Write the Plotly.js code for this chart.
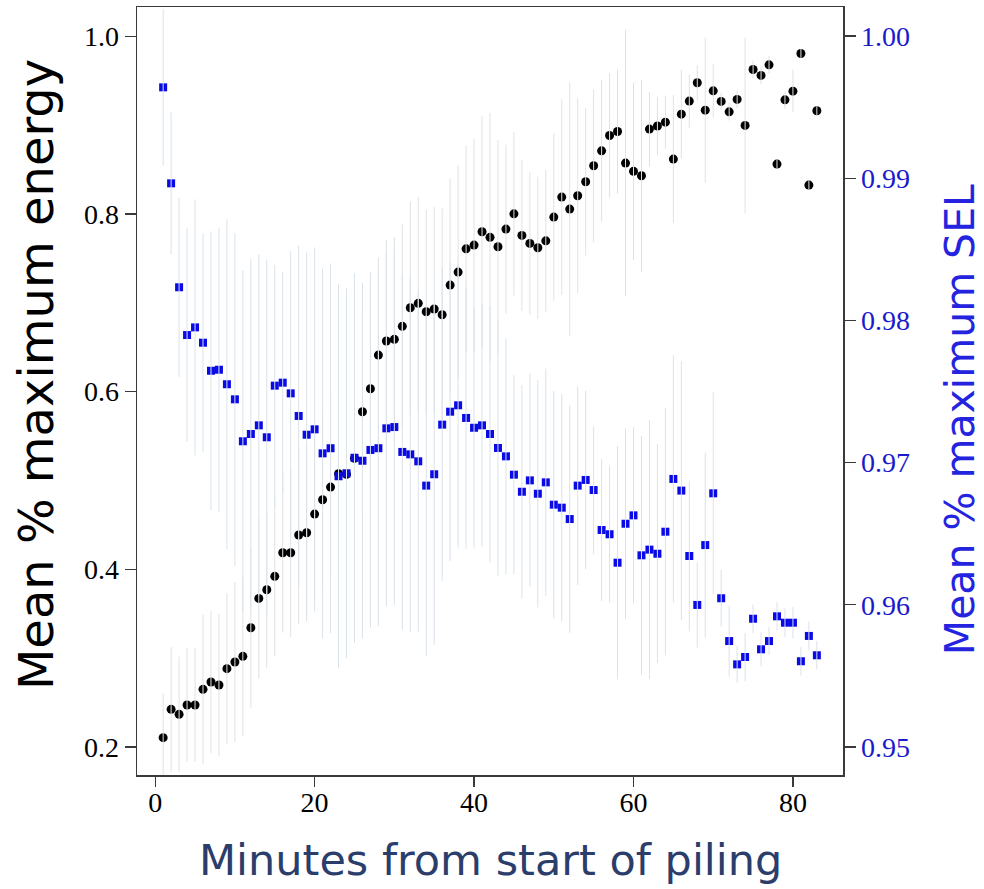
<!DOCTYPE html>
<html>
<head>
<meta charset="utf-8">
<script src="https://cdn.plot.ly/plotly-3.0.1.min.js"></script>
<style>html,body{margin:0;padding:0;background:#fff;}#chart{width:984px;height:889px;}</style>
</head>
<body>
<div id="chart"></div>
<script>
// Minutes from start of piling
const minutes = [];
for (let m = 1; m <= 83; m++) minutes.push(m);

// Mean % maximum energy (left axis)
const energy = [
  0.2105, 0.2424, 0.2368, 0.2473, 0.2473, 0.2649, 0.2732, 0.2698, 0.2882, 0.2957,
  0.3021, 0.3343, 0.3673, 0.3770, 0.3921, 0.4187, 0.4187, 0.4386, 0.4412, 0.4622,
  0.4783, 0.4926, 0.5076, 0.5069, 0.5250, 0.5774, 0.6033, 0.6412, 0.6570, 0.6589,
  0.6735, 0.6944, 0.6994, 0.6899, 0.6930, 0.6866, 0.7200, 0.7346, 0.7608, 0.7650,
  0.7800, 0.7737, 0.7631, 0.7830, 0.8002, 0.7759, 0.7669, 0.7620, 0.7698, 0.7965,
  0.8190, 0.8055, 0.8205, 0.8363, 0.8543, 0.8711, 0.8884, 0.8929, 0.8573, 0.8480,
  0.8430, 0.8956, 0.8990, 0.9034, 0.8618, 0.9124, 0.9271, 0.9477, 0.9169, 0.9386,
  0.9267, 0.9150, 0.9290, 0.8997, 0.9627, 0.9560, 0.9679, 0.8562, 0.9285, 0.9383,
  0.9807, 0.8325, 0.9162
];
// error half-widths for energy
const energyErr = [
  0.050, 0.070, 0.065, 0.064, 0.064, 0.084, 0.080, 0.080, 0.085, 0.090,
  0.090, 0.090, 0.090, 0.088, 0.090, 0.090, 0.095, 0.100, 0.100, 0.100,
  0.100, 0.100, 0.105, 0.105, 0.110, 0.110, 0.110, 0.110, 0.114, 0.115,
  0.115, 0.120, 0.120, 0.115, 0.115, 0.120, 0.120, 0.120, 0.116, 0.120,
  0.130, 0.140, 0.120, 0.095, 0.092, 0.085, 0.080, 0.080, 0.080, 0.094,
  0.110, 0.143, 0.110, 0.083, 0.086, 0.080, 0.070, 0.070, 0.150, 0.100,
  0.108, 0.042, 0.033, 0.030, 0.072, 0.050, 0.030, 0.020, 0.082, 0.030,
  0.010, 0.010, 0.010, 0.099, 0.010, 0.010, 0.010, 0.005, 0.010, 0.024,
  0.005, 0.005, 0.005
];

// Mean % maximum SEL (right axis)
const sel = [
  0.99639, 0.98964, 0.98233, 0.97897, 0.97951, 0.97843, 0.97646, 0.97653, 0.97551, 0.97445,
  0.97150, 0.97201, 0.97262, 0.97178, 0.97541, 0.97562, 0.97487, 0.97328, 0.97196, 0.97234,
  0.97065, 0.97101, 0.96904, 0.96925, 0.97034, 0.97013, 0.97089, 0.97101, 0.97241, 0.97250,
  0.97075, 0.97058, 0.97009, 0.96838, 0.96918, 0.97267, 0.97358, 0.97403, 0.97314, 0.97245,
  0.97262, 0.97201, 0.97103, 0.97044, 0.96915, 0.96795, 0.96875, 0.96781, 0.96861, 0.96704,
  0.96683, 0.96603, 0.96838, 0.96878, 0.96807, 0.96526, 0.96496, 0.96296, 0.96570, 0.96629,
  0.96348, 0.96388, 0.96359, 0.96514, 0.96885, 0.96803, 0.96343, 0.95999, 0.96420, 0.96784,
  0.96046, 0.95745, 0.95581, 0.95633, 0.95902, 0.95687, 0.95745, 0.95919, 0.95874, 0.95874,
  0.95603, 0.95781, 0.95645
];
// error half-widths for SEL
const selErr = [
  0.0055, 0.0050, 0.0063, 0.0075, 0.0090, 0.0077, 0.0098, 0.0100, 0.0116, 0.0117,
  0.0120, 0.0123, 0.0120, 0.0125, 0.0085, 0.0078, 0.0100, 0.0120, 0.0128, 0.0128,
  0.0130, 0.0130, 0.0135, 0.0130, 0.0130, 0.0125, 0.0125, 0.0125, 0.0125, 0.0125,
  0.0125, 0.0125, 0.0120, 0.0120, 0.0120, 0.0110, 0.0105, 0.0100, 0.0092, 0.0085,
  0.0085, 0.0090, 0.0090, 0.0083, 0.0070, 0.0075, 0.0075, 0.0080, 0.0080, 0.0080,
  0.0080, 0.0080, 0.0070, 0.0063, 0.0045, 0.0050, 0.0048, 0.0082, 0.0067, 0.0062,
  0.0084, 0.0091, 0.0077, 0.0087, 0.0087, 0.0091, 0.0053, 0.0030, 0.0065, 0.0071,
  0.0020, 0.0025, 0.0013, 0.0017, 0.0010, 0.0012, 0.0010, 0.0010, 0.0010, 0.0011,
  0.0010, 0.0010, 0.0010
];

const xTicks = [0, 20, 40, 60, 80];
const yTicks = [0.2, 0.4, 0.6, 0.8, 1.0];
const yTickText = ['0.2', '0.4', '0.6', '0.8', '1.0'];
const y2Ticks = [0.95, 0.96, 0.97, 0.98, 0.99, 1.00];
const y2TickText = ['0.95', '0.96', '0.97', '0.98', '0.99', '1.00'];

const serif = 'Liberation Serif, Times New Roman, serif';
const sans = 'DejaVu Sans, sans-serif';
const barColE = '#dfe2e4';
const barColS = '#d9e3ea';

const traces = [
  {
    x: minutes, y: energy, type: 'scatter', mode: 'markers', yaxis: 'y',
    marker: {symbol: 'circle', size: 9, color: '#000000'},
    hoverinfo: 'x+y', showlegend: false
  },
  {
    x: minutes, y: sel, type: 'scatter', mode: 'markers', yaxis: 'y2',
    marker: {symbol: 'square', size: 8, color: '#0a0ae6'},
    hoverinfo: 'x+y', showlegend: false
  },
  {
    x: minutes, y: energy, type: 'scatter', mode: 'markers', yaxis: 'y',
    marker: {size: 1, color: 'rgba(0,0,0,0)'},
    error_y: {type: 'data', array: energyErr, visible: true, color: barColE, thickness: 1, width: 0},
    hoverinfo: 'skip', showlegend: false
  },
  {
    x: minutes, y: sel, type: 'scatter', mode: 'markers', yaxis: 'y2',
    marker: {size: 1, color: 'rgba(0,0,0,0)'},
    error_y: {type: 'data', array: selErr, visible: true, color: barColS, thickness: 1, width: 0},
    hoverinfo: 'skip', showlegend: false
  }
];

const axisLine = '#3a3a3a';
const layout = {
  width: 984, height: 889,
  margin: {l: 137, r: 141, t: 7, b: 114, pad: 0},
  paper_bgcolor: '#ffffff', plot_bgcolor: '#ffffff',
  showlegend: false,
  xaxis: {
    range: [-2.28, 86.28], tickvals: xTicks, ticks: 'outside', ticklen: 10, tickwidth: 1.2,
    tickcolor: axisLine, showline: true, linecolor: axisLine, linewidth: 1.5, mirror: true,
    showgrid: false, zeroline: false, ticklabelstandoff: -8,
    tickfont: {family: serif, size: 28, color: '#000000'}
  },
  yaxis: {
    range: [0.1685, 1.033], tickvals: yTicks, ticktext: yTickText, ticks: 'outside', ticklen: 11, tickwidth: 1.2,
    tickcolor: axisLine, showline: true, linecolor: axisLine, linewidth: 1.5, mirror: true,
    showgrid: false, zeroline: false,
    tickfont: {family: serif, size: 28, color: '#000000'}
  },
  yaxis2: {
    range: [0.94803, 1.00204], tickvals: y2Ticks, ticktext: y2TickText, overlaying: 'y', side: 'right',
    ticks: 'outside', ticklen: 11, tickwidth: 1.2, tickcolor: axisLine,
    showline: true, linecolor: axisLine, linewidth: 1.5,
    showgrid: false, zeroline: false,
    tickfont: {family: serif, size: 28, color: '#1a1acc'}
  },
  annotations: [
    {
      text: 'Mean % maximum energy', xref: 'paper', yref: 'paper', x: -0.1430, y: 0.5208,
      xanchor: 'center', yanchor: 'middle', textangle: -90, showarrow: false,
      font: {family: sans, size: 48, color: '#000000'}
    },
    {
      text: 'Mean % maximum SEL', xref: 'paper', yref: 'paper', x: 1.1660, y: 0.4622,
      xanchor: 'center', yanchor: 'middle', textangle: -90, showarrow: false,
      font: {family: sans, size: 41, color: '#2424e0'}
    },
    {
      text: 'Minutes from start of piling', xref: 'paper', yref: 'paper', x: 0.5, y: -0.1107,
      xanchor: 'center', yanchor: 'middle', showarrow: false,
      font: {family: sans, size: 43, color: '#2b3d6b'}
    }
  ]
};

Plotly.newPlot('chart', traces, layout, {staticPlot: true, displayModeBar: false});
</script>
</body>
</html>
